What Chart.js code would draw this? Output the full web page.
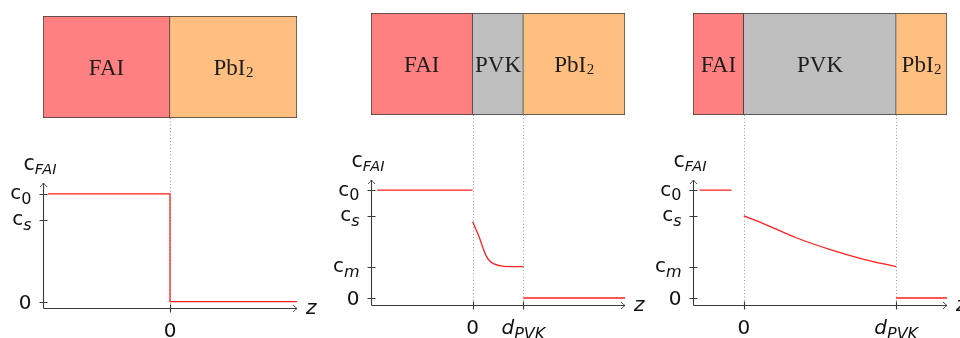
<!DOCTYPE html>
<html>
<head>
<meta charset="utf-8">
<script src="https://cdn.jsdelivr.net/npm/chart.js@4/dist/chart.umd.min.js"></script>
<style>
  html, body { margin: 0; padding: 0; background: #ffffff; }
  #stage { position: relative; width: 960px; height: 338px; overflow: hidden; background: #ffffff; }
  #stage canvas { position: absolute; }
</style>
</head>
<body>
<div id="stage"></div>
<script>
// ---------------- data ----------------
// Stage 1: FAI on PbI2, no perovskite yet
const layersA  = ['FAI', 'PbI2'];
const boundsA  = [[-1, 0], [0, 1]];
const zRangeA  = [-1, 1];
const cRangeA  = [-0.06, 1.1];
const stepA_z  = [-0.96, 0, 0, 1];
const stepA_c  = [1, 1, 0, 0];
const yTickA   = [1, 0.76, 0];
const yMainA   = ['c', 'c', '0'];
const ySubA    = ['0', 's', ''];
const xTickA   = [0];
const xMainA   = ['0'];
const xSubA    = [''];
const guidesA  = [0];

// Stage 2: thin perovskite layer between FAI and PbI2
const layersB  = ['FAI', 'PVK', 'PbI2'];
const boundsB  = [[-2, 0], [0, 1], [1, 3]];
const zRangeB  = [-2, 3];
const cRangeB  = [-0.065, 1.093];
const faiB_z   = [-1.88, 0];
const faiB_c   = [1, 1];
const pvkB_z   = [0, 0.067, 0.133, 0.2, 0.266, 0.365, 0.53, 0.73, 1.0];
const pvkB_c   = [0.706, 0.635, 0.56, 0.47, 0.39, 0.33, 0.30, 0.29, 0.29];
const pbiB_z   = [1, 3];
const pbiB_c   = [0, 0];
const yTickB   = [1, 0.76, 0.29, 0];
const yMainB   = ['c', 'c', 'c', '0'];
const ySubB    = ['0', 's', 'm', ''];
const xTickB   = [0, 1];
const xMainB   = ['0', 'd'];
const xSubB    = ['', 'PVK'];
const guidesB  = [0, 1];

// Stage 3: thick perovskite layer
const layersC  = ['FAI', 'PVK', 'PbI2'];
const boundsC  = [[-1 / 3, 0], [0, 1], [1, 4 / 3]];
const zRangeC  = [-1 / 3, 4 / 3];
const cRangeC  = [-0.065, 1.093];
const faiC_z   = [-0.29, -0.08];
const faiC_c   = [1, 1];
const pvkC_z   = [0, 0.125, 0.344, 0.562, 0.781, 1.0];
const pvkC_c   = [0.76, 0.692, 0.558, 0.451, 0.361, 0.29];
const pbiC_z   = [1, 4 / 3];
const pbiC_c   = [0, 0];
const yTickC   = [1, 0.76, 0.29, 0];
const yMainC   = ['c', 'c', 'c', '0'];
const ySubC    = ['0', 's', 'm', ''];
const xTickC   = [0, 1];
const xMainC   = ['0', 'd'];
const xSubC    = ['', 'PVK'];
const guidesC  = [0, 1];

const axisTitleMain = 'c';
const axisTitleSub  = 'FAI';
const zTitle        = 'z';

// ---------------- styles ----------------
const LAYER_FILL = { FAI: '#ff8080', PVK: '#bfbfbf', PbI2: '#ffbf80' };
const EDGE  = '#3a3a3a';
const AXIS  = '#3a3a3a';
const GUIDE = '#8a8a8a';
const RED   = '#ff1f1f';
const TEXT  = '#111111';
const SERIF = '"Liberation Serif", "DejaVu Serif", serif';
const SANS  = '"DejaVu Sans", "Open Sans", sans-serif';

const stage = document.getElementById('stage');

function makeCanvas(left, top, width, height) {
  const c = document.createElement('canvas');
  c.width = width; c.height = height;
  c.style.left = left + 'px'; c.style.top = top + 'px';
  c.style.width = width + 'px'; c.style.height = height + 'px';
  stage.appendChild(c);
  return c;
}

function zip(xs, ys) { return xs.map((v, i) => ({ x: v, y: ys[i] })); }

// main text followed by a lowered subscript
function drawScripted(ctx, main, sub, x, y, align, o) {
  const mainFont = (o.mainItalic ? 'italic ' : '') + o.mainSize + 'px ' + o.family;
  const subFont  = (o.subItalic ? 'italic ' : '') + o.subSize + 'px ' + o.family;
  ctx.font = mainFont;
  const wMain = ctx.measureText(main).width;
  ctx.font = subFont;
  const wSub = sub ? ctx.measureText(sub).width + (o.gap || 0) : 0;
  const total = wMain + wSub;
  let x0 = x;
  if (align === 'right') x0 = x - total;
  else if (align === 'center') x0 = x - total / 2;
  ctx.textAlign = 'left';
  ctx.textBaseline = 'alphabetic';
  ctx.fillStyle = o.color || TEXT;
  ctx.font = mainFont;
  ctx.fillText(main, x0, y);
  if (sub) {
    ctx.font = subFont;
    ctx.fillText(sub, x0 + wMain + (o.gap || 0), y + o.drop);
  }
}

function isLetter(s) { return /^[A-Za-z]+$/.test(s); }

// ---------- layer stack (floating horizontal bars) ----------
function layerChart(box, names, bounds, zRange) {
  const canvas = makeCanvas(box.left, box.top, box.width, box.height);
  const labelPlugin = {
    id: 'layerLabels',
    afterDatasetsDraw(chart) {
      const { ctx, scales: { x }, chartArea: a } = chart;
      ctx.save();
      const cy = (a.top + a.bottom) / 2;
      names.forEach((name, i) => {
        const cx = x.getPixelForValue((bounds[i][0] + bounds[i][1]) / 2);
        const m = name.match(/^(.*?)(\d+)$/);
        const main = m ? m[1] : name;
        const sub = m ? m[2] : '';
        ctx.font = '23px ' + SERIF;
        const asc = ctx.measureText('F').actualBoundingBoxAscent;
        drawScripted(ctx, main, sub, cx, cy + asc / 2, 'center',
          { family: SERIF, mainSize: 23, subSize: 15, drop: 2.5, gap: 0.5, color: '#1e1e1e' });
      });
      ctx.restore();
    }
  };
  return new Chart(canvas, {
    type: 'bar',
    data: {
      labels: ['stack'],
      datasets: names.map((n, i) => ({
        label: n,
        data: [bounds[i]],
        backgroundColor: LAYER_FILL[n],
        borderColor: EDGE,
        borderWidth: { top: 1, bottom: 1, right: 1, left: i === 0 ? 1 : 0 },
        borderSkipped: false,
        grouped: false,
        barPercentage: 1,
        categoryPercentage: 1
      }))
    },
    options: {
      indexAxis: 'y',
      responsive: false,
      animation: false,
      devicePixelRatio: 1,
      events: [],
      layout: { padding: 0 },
      scales: {
        x: { type: 'linear', min: zRange[0], max: zRange[1], display: false },
        y: { display: false }
      },
      plugins: { legend: { display: false }, tooltip: { enabled: false } }
    },
    plugins: [labelPlugin]
  });
}

// ---------- concentration profile ----------
function profileChart(frame, spec) {
  const canvas = makeCanvas(frame.left, frame.top, frame.width, frame.height);
  const axisPlugin = {
    id: 'profileAxes',
    beforeDatasetsDraw(chart) {
      const { ctx, chartArea: a, scales: { x, y } } = chart;
      ctx.save();
      // dotted guides dropping from the layer interfaces
      ctx.strokeStyle = GUIDE;
      ctx.lineWidth = 0.9;
      ctx.setLineDash([1, 2.3]);
      spec.guides.forEach(v => {
        const px = Math.round(x.getPixelForValue(v)) + 0.5;
        ctx.beginPath(); ctx.moveTo(px, 0); ctx.lineTo(px, a.bottom); ctx.stroke();
      });
      ctx.setLineDash([]);
      // axes
      ctx.strokeStyle = AXIS;
      ctx.lineWidth = 1.1;
      const L = Math.round(a.left) + 0.5, B = Math.round(a.bottom) + 0.5;
      ctx.beginPath();
      ctx.moveTo(L, B); ctx.lineTo(a.right, B);
      ctx.moveTo(L, B); ctx.lineTo(L, a.top);
      ctx.stroke();
      // arrow heads
      ctx.lineWidth = 0.9;
      ctx.beginPath();
      ctx.moveTo(a.right - 4, B - 3.5);
      ctx.quadraticCurveTo(a.right - 1.5, B - 1, a.right, B);
      ctx.quadraticCurveTo(a.right - 1.5, B + 1, a.right - 4, B + 3.5);
      ctx.moveTo(L - 3.5, a.top + 4);
      ctx.quadraticCurveTo(L - 1, a.top + 1.5, L, a.top);
      ctx.quadraticCurveTo(L + 1, a.top + 1.5, L + 3.5, a.top + 4);
      ctx.stroke();
      // tick marks
      ctx.lineWidth = 1.1;
      ctx.beginPath();
      spec.yTicks.forEach(v => {
        const py = Math.round(y.getPixelForValue(v)) + 0.5;
        ctx.moveTo(L - 4, py); ctx.lineTo(L + 4, py);
      });
      spec.xTicks.forEach(v => {
        const px = Math.round(x.getPixelForValue(v)) + 0.5;
        ctx.moveTo(px, B - 4); ctx.lineTo(px, B + 4);
      });
      ctx.stroke();
      ctx.restore();
    },
    afterDraw(chart) {
      const { ctx, chartArea: a, scales: { x, y } } = chart;
      ctx.save();
      const base = { family: SANS, mainSize: 20, subSize: 16, drop: 4.5, gap: 0 };
      // y tick labels
      spec.yTicks.forEach((v, i) => {
        const py = y.getPixelForValue(v);
        const main = spec.yMain[i], sub = spec.ySub[i];
        ctx.font = base.mainSize + 'px ' + SANS;
        const asc = ctx.measureText(main).actualBoundingBoxAscent;
        drawScripted(ctx, main, sub, a.left - 11.5, py + asc / 2, 'right',
          Object.assign({}, base, { subItalic: isLetter(sub) }));
      });
      // x tick labels
      spec.xTicks.forEach((v, i) => {
        const px = x.getPixelForValue(v);
        const main = spec.xMain[i], sub = spec.xSub[i];
        drawScripted(ctx, main, sub, px, a.bottom + 28.5, 'center',
          Object.assign({}, base, { mainItalic: isLetter(main), subItalic: isLetter(sub), drop: 5 }));
      });
      // axis titles
      drawScripted(ctx, axisTitleMain, axisTitleSub, a.left - 19.5, a.top - 13.5, 'left',
        { family: SANS, mainSize: 20.5, subSize: 14.5, drop: 4, gap: 0, subItalic: true });
      ctx.font = 'italic 20px ' + SANS;
      ctx.fillStyle = TEXT;
      ctx.textAlign = 'left';
      ctx.textBaseline = 'alphabetic';
      ctx.fillText(zTitle, a.right + 9, a.bottom + 5.5);
      ctx.restore();
    }
  };
  return new Chart(canvas, {
    type: 'line',
    data: {
      datasets: spec.series.map(s => ({
        data: zip(s.z, s.c),
        borderColor: RED,
        borderWidth: 1.3,
        pointRadius: 0,
        fill: false,
        tension: s.smooth ? 0.4 : 0,
        cubicInterpolationMode: s.smooth ? 'monotone' : 'default'
      }))
    },
    options: {
      responsive: false,
      animation: false,
      devicePixelRatio: 1,
      events: [],
      layout: { padding: frame.padding },
      scales: {
        x: { type: 'linear', min: spec.zRange[0], max: spec.zRange[1], display: false },
        y: { type: 'linear', min: spec.cRange[0], max: spec.cRange[1], display: false }
      },
      plugins: { legend: { display: false }, tooltip: { enabled: false } }
    },
    plugins: [axisPlugin]
  });
}

// ---------- panels ----------
layerChart({ left: 43, top: 16, width: 254, height: 102 }, layersA, boundsA, zRangeA);
profileChart(
  { left: 0, top: 118, width: 340, height: 220, padding: { left: 43, right: 43, top: 65, bottom: 30 } },
  {
    zRange: zRangeA, cRange: cRangeA,
    series: [{ z: stepA_z, c: stepA_c }],
    yTicks: yTickA, yMain: yMainA, ySub: ySubA,
    xTicks: xTickA, xMain: xMainA, xSub: xSubA,
    guides: guidesA
  }
);

layerChart({ left: 371, top: 13, width: 254, height: 102 }, layersB, boundsB, zRangeB);
profileChart(
  { left: 320, top: 115, width: 340, height: 223, padding: { left: 51, right: 35, top: 65, bottom: 33 } },
  {
    zRange: zRangeB, cRange: cRangeB,
    series: [
      { z: faiB_z, c: faiB_c },
      { z: pvkB_z, c: pvkB_c, smooth: true },
      { z: pbiB_z, c: pbiB_c }
    ],
    yTicks: yTickB, yMain: yMainB, ySub: ySubB,
    xTicks: xTickB, xMain: xMainB, xSub: xSubB,
    guides: guidesB
  }
);

layerChart({ left: 693, top: 13, width: 254, height: 102 }, layersC, boundsC, zRangeC);
profileChart(
  { left: 640, top: 115, width: 320, height: 223, padding: { left: 53, right: 13, top: 65, bottom: 33 } },
  {
    zRange: zRangeC, cRange: cRangeC,
    series: [
      { z: faiC_z, c: faiC_c },
      { z: pvkC_z, c: pvkC_c, smooth: true },
      { z: pbiC_z, c: pbiC_c }
    ],
    yTicks: yTickC, yMain: yMainC, ySub: ySubC,
    xTicks: xTickC, xMain: xMainC, xSub: xSubC,
    guides: guidesC
  }
);
</script>
</body>
</html>
